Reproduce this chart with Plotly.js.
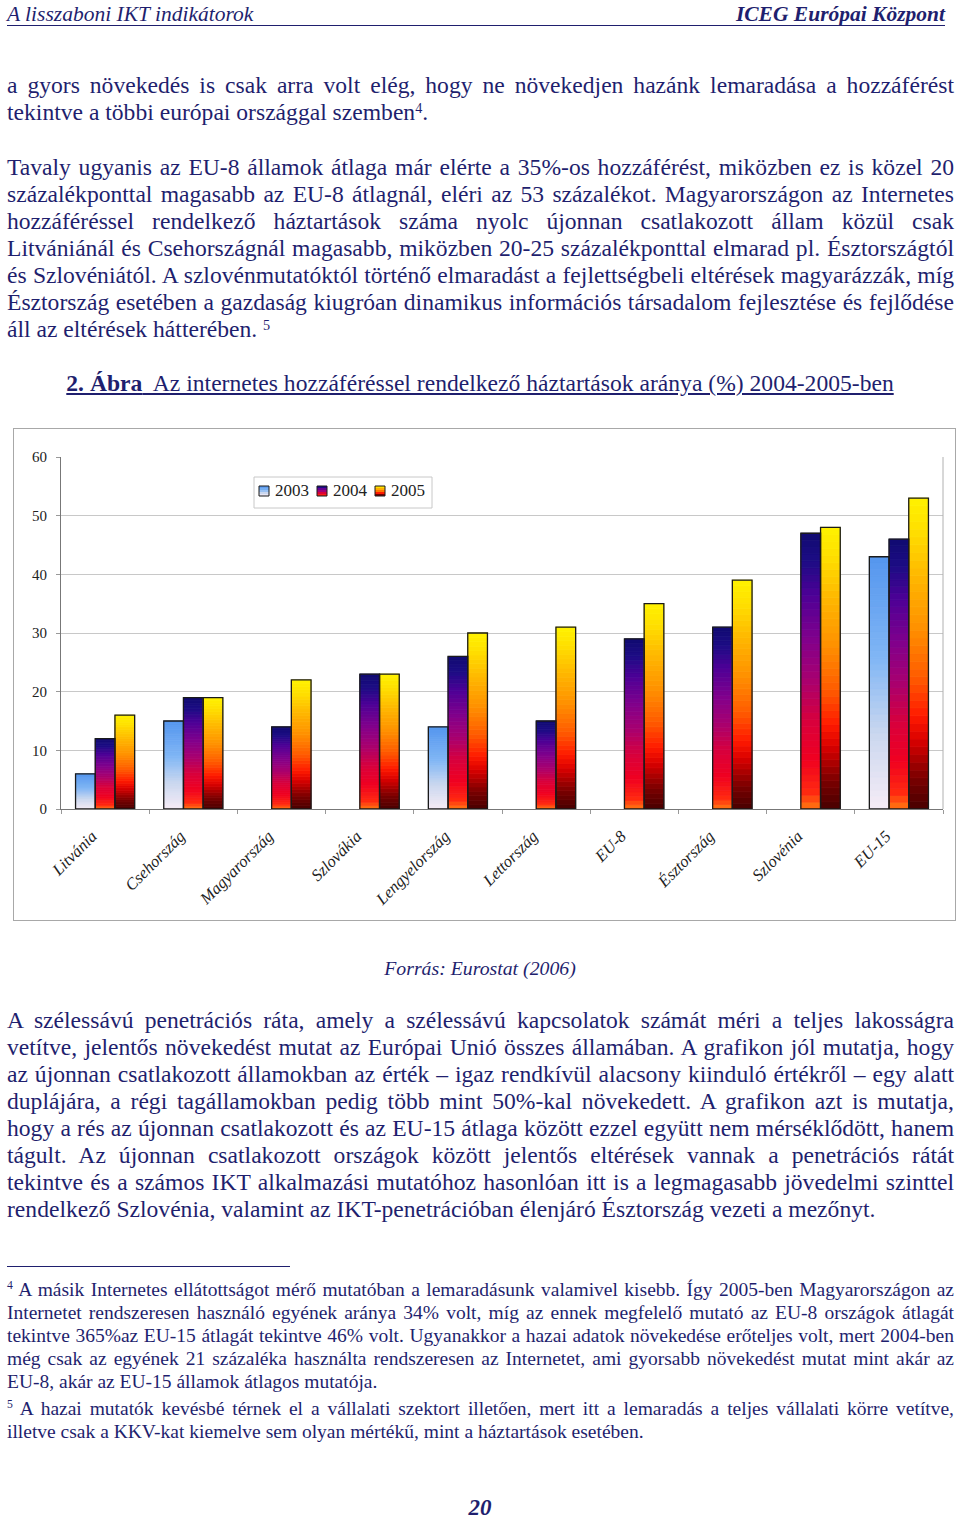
<!DOCTYPE html>
<html>
<head>
<meta charset="utf-8">
<script src="https://cdn.plot.ly/plotly-3.0.1.min.js"></script>
<style>
  html, body { margin:0; padding:0; background:#fff; }
  body { width:960px; height:1519px; position:relative; overflow:hidden;
         font-family:"Liberation Serif","Times New Roman",serif; color:#1f1f6e; }
  .blk { position:absolute; left:7px; width:947px; }
  .body21 { font-size:23.6px; line-height:27px; }
  .fn { font-size:19.5px; line-height:23px; }
  .j { white-space:nowrap; text-align:justify; text-align-last:justify; }
  .l { white-space:nowrap; text-align:left; }
  sup { font-size:60%; vertical-align:top; position:relative; top:-4px; }
  #hdr { position:absolute; left:7px; width:938px; top:1px; height:24px; border-bottom:1.5px solid #1f1f6e;
         font-size:21.5px; font-style:italic; line-height:26px; }
  #hdr .r { position:absolute; right:0; top:0; font-weight:bold; }
  #cap { position:absolute; left:0; width:960px; top:370px; text-align:center; font-size:23.6px; line-height:27px; text-decoration:underline; }
  #src { position:absolute; left:0; width:960px; top:957px; text-align:center; font-size:19.8px; font-style:italic; line-height:23px; }
  #rule { position:absolute; left:7px; top:1266px; width:283px; border-top:1px solid #1f1f6e; }
  #pg { position:absolute; left:0; width:960px; top:1494px; text-align:center; font-size:23px; font-weight:bold; font-style:italic; line-height:27px; }
  #chartbox { position:absolute; left:13px; top:428px; width:941px; height:491px; border:1px solid #a8a8a8; }
</style>
</head>
<body>
<div id="hdr"><span>A lisszaboni IKT indikátorok</span><span class="r">ICEG Európai Központ</span></div>

<div class="blk body21" style="top:72px">
  <div class="j">a gyors növekedés is csak arra volt elég, hogy ne növekedjen hazánk lemaradása a hozzáférést</div>
  <div class="l">tekintve a többi európai országgal szemben<sup>4</sup>.</div>
</div>

<div class="blk body21" style="top:154px">
  <div class="j">Tavaly ugyanis az EU-8 államok átlaga már elérte a 35%-os hozzáférést, miközben ez is közel 20</div>
  <div class="j">százalékponttal magasabb az EU-8 átlagnál, eléri az 53 százalékot. Magyarországon az Internetes</div>
  <div class="j">hozzáféréssel rendelkező háztartások száma nyolc újonnan csatlakozott állam közül csak</div>
  <div class="j">Litvániánál és Csehországnál magasabb, miközben 20-25 százalékponttal elmarad pl. Észtországtól</div>
  <div class="j">és Szlovéniától. A szlovénmutatóktól történő elmaradást a fejlettségbeli eltérések magyarázzák, míg</div>
  <div class="j">Észtország esetében a gazdaság kiugróan dinamikus információs társadalom fejlesztése és fejlődése</div>
  <div class="l">áll az eltérések hátterében. <sup>5</sup></div>
</div>

<div id="cap"><b>2. Ábra</b>&nbsp; Az internetes hozzáféréssel rendelkező háztartások aránya (%) 2004-2005-ben</div>

<div id="chartbox"><div id="chart"></div></div>

<div id="src">Forrás: Eurostat (2006)</div>

<div class="blk body21" style="top:1007px">
  <div class="j">A szélessávú penetrációs ráta, amely a szélessávú kapcsolatok számát méri a teljes lakosságra</div>
  <div class="j">vetítve, jelentős növekedést mutat az Európai Unió összes államában. A grafikon jól mutatja, hogy</div>
  <div class="j">az újonnan csatlakozott államokban az érték – igaz rendkívül alacsony kiinduló értékről – egy alatt</div>
  <div class="j">duplájára, a régi tagállamokban pedig több mint 50%-kal növekedett. A grafikon azt is mutatja,</div>
  <div class="j">hogy a rés az újonnan csatlakozott és az EU-15 átlaga között ezzel együtt nem mérséklődött, hanem</div>
  <div class="j">tágult. Az újonnan csatlakozott országok között jelentős eltérések vannak a penetrációs rátát</div>
  <div class="j">tekintve és a számos IKT alkalmazási mutatóhoz hasonlóan itt is a legmagasabb jövedelmi szinttel</div>
  <div class="l">rendelkező Szlovénia, valamint az IKT-penetrációban élenjáró Észtország vezeti a mezőnyt.</div>
</div>

<div id="rule"></div>

<div class="blk fn" style="top:1278px">
  <div class="j"><sup>4</sup> A másik Internetes ellátottságot mérő mutatóban a lemaradásunk valamivel kisebb. Így 2005-ben Magyarországon az</div>
  <div class="j">Internetet rendszeresen használó egyének aránya 34% volt, míg az ennek megfelelő mutató az EU-8 országok átlagát</div>
  <div class="j">tekintve 365%az EU-15 átlagát tekintve 46% volt. Ugyanakkor a hazai adatok növekedése erőteljes volt, mert 2004-ben</div>
  <div class="j">még csak az egyének 21 százaléka használta rendszeresen az Internetet, ami gyorsabb növekedést mutat mint akár az</div>
  <div class="l">EU-8, akár az EU-15 államok átlagos mutatója.</div>
</div>
<div class="blk fn" style="top:1397px">
  <div class="j"><sup>5</sup> A hazai mutatók kevésbé térnek el a vállalati szektort illetően, mert itt a lemaradás a teljes vállalati körre vetítve,</div>
  <div class="l">illetve csak a KKV-kat kiemelve sem olyan mértékű, mint a háztartások esetében.</div>
</div>

<div id="pg">20</div>

<script>
// ---- data ----
var categories = ["Litvánia","Csehország","Magyarország","Szlovákia","Lengyelország","Lettország","EU-8","Észtország","Szlovénia","EU-15"];
var seriesNames = ["2003","2004","2005"];
var values2003 = [6, 15, null, null, 14, null, null, null, null, 43];
var values2004 = [12, 19, 14, 23, 26, 15, 29, 31, 47, 46];
var values2005 = [16, 19, 22, 23, 30, 31, 35, 39, 48, 53];
var yTicks = [0, 10, 20, 30, 40, 50, 60];

// ---- styles ----
var FONT = 'Liberation Serif, Times New Roman, serif';
var gradients = [
  [[0,'#f6ecf6'],[0.3,'#cad7ef'],[0.6,'#80b6f5'],[1,'#5596ee']],
  [[0,'#ff7a10'],[0.06,'#ff2a10'],[0.18,'#f00020'],[0.32,'#d8003c'],[0.47,'#a80070'],[0.62,'#80008c'],[0.78,'#4c0096'],[0.9,'#1c0c84'],[1,'#100a70']],
  [[0,'#480000'],[0.1,'#7a0000'],[0.22,'#d80000'],[0.3,'#ff1a00'],[0.42,'#ff5a00'],[0.58,'#ff9000'],[0.75,'#ffb800'],[0.9,'#ffe000'],[1,'#fff200']]
];

function hex2rgb(h){ return [parseInt(h.substr(1,2),16),parseInt(h.substr(3,2),16),parseInt(h.substr(5,2),16)]; }
function colorAt(stops,t){
  for (var i=0;i<stops.length-1;i++){
    if (t<=stops[i+1][0]){
      var a=stops[i], b=stops[i+1], f=(t-a[0])/(b[0]-a[0]);
      var ca=hex2rgb(a[1]), cb=hex2rgb(b[1]);
      return 'rgb('+ca.map(function(v,k){return Math.round(v+(cb[k]-v)*f);}).join(',')+')';
    }
  }
  return stops[stops.length-1][1];
}

var allSeries = [values2003, values2004, values2005];
var groups = ['a','b','c'];
var N = 40;
var traces = [];
allSeries.forEach(function(vals, s){
  for (var i=0;i<N;i++){
    var c = colorAt(gradients[s],(i+0.5)/N);
    traces.push({
      type:'bar', x:categories, offsetgroup:groups[s],
      y: vals.map(function(v){ return v==null?null:v/N; }),
      base: vals.map(function(v){ return v==null?null:v*i/N; }),
      marker:{color:c, line:{width:0.8, color:c}},
      showlegend:false, hoverinfo:'skip'
    });
  }
});
allSeries.forEach(function(vals, s){
  traces.push({
    type:'bar', x:categories, y:vals, offsetgroup:groups[s],
    marker:{color:'rgba(0,0,0,0)', line:{color:'#1a1a1a', width:1.3}},
    showlegend:false, hoverinfo:'skip'
  });
});

// ---- manual legend (box, gradient icons, labels) ----
var plotL = 61, plotT = 457, plotW = 882, plotH = 352;
function px(x){ return (x-plotL)/plotW; }
function py(y){ return 1-(y-plotT)/plotH; }
var shapes = [
  {type:'line', xref:'paper', yref:'paper', x0:1, x1:1, y0:0, y1:1, line:{color:'#b0b0b0', width:1}},
  {type:'rect', xref:'paper', yref:'paper', x0:px(254), x1:px(432), y0:py(508), y1:py(477),
   line:{color:'#c8c8c8', width:1}, fillcolor:'#ffffff', layer:'above'}
];
var annotations = [];
seriesNames.forEach(function(nm, s){
  var ix = 259 + 58*s, iy = 486, strips = 5;
  for (var k=0;k<strips;k++){
    shapes.push({type:'rect', xref:'paper', yref:'paper', layer:'above',
      x0:px(ix), x1:px(ix+10), y0:py(iy+10-2*k), y1:py(iy+10-2*(k+1)),
      line:{width:0}, fillcolor:colorAt(gradients[s],(k+0.5)/strips)});
  }
  shapes.push({type:'rect', xref:'paper', yref:'paper', layer:'above',
    x0:px(ix), x1:px(ix+10), y0:py(iy+10), y1:py(iy), line:{color:'#1a1a1a', width:1}, fillcolor:'rgba(0,0,0,0)'});
  annotations.push({xref:'paper', yref:'paper', x:px(ix+14), y:py(iy+5), xanchor:'left', yanchor:'middle',
    text:nm, showarrow:false, font:{family:FONT, size:17, color:'#222'}});
});

var layout = {
  width:941, height:491,
  margin:{l:47, r:12, t:28, b:111},
  paper_bgcolor:'#ffffff', plot_bgcolor:'#ffffff',
  barmode:'group', bargap:0.33, bargroupgap:0,
  font:{family:FONT, size:15, color:'#222'},
  showlegend:false,
  xaxis:{type:'category', tickangle:-45, ticks:'outside', tickson:'boundaries', ticklen:4,
         tickcolor:'#999', showline:true, linecolor:'#777', linewidth:1, showgrid:false,
         tickfont:{family:FONT, size:16.5, style:'italic', color:'#222'},
         ticklabelshift:-13, ticklabelstandoff:10, fixedrange:true},
  yaxis:{range:[0,60], tickvals:yTicks, ticks:'outside', ticklen:4, tickcolor:'#999',
         showline:true, linecolor:'#777', linewidth:1, gridcolor:'#c8c8c8', gridwidth:1,
         zeroline:false, ticklabelstandoff:6, fixedrange:true,
         tickfont:{family:FONT, size:15, color:'#222'}},
  shapes:shapes,
  annotations:annotations
};

Plotly.newPlot('chart', traces, layout, {staticPlot:true, displayModeBar:false});
</script>
</body>
</html>
